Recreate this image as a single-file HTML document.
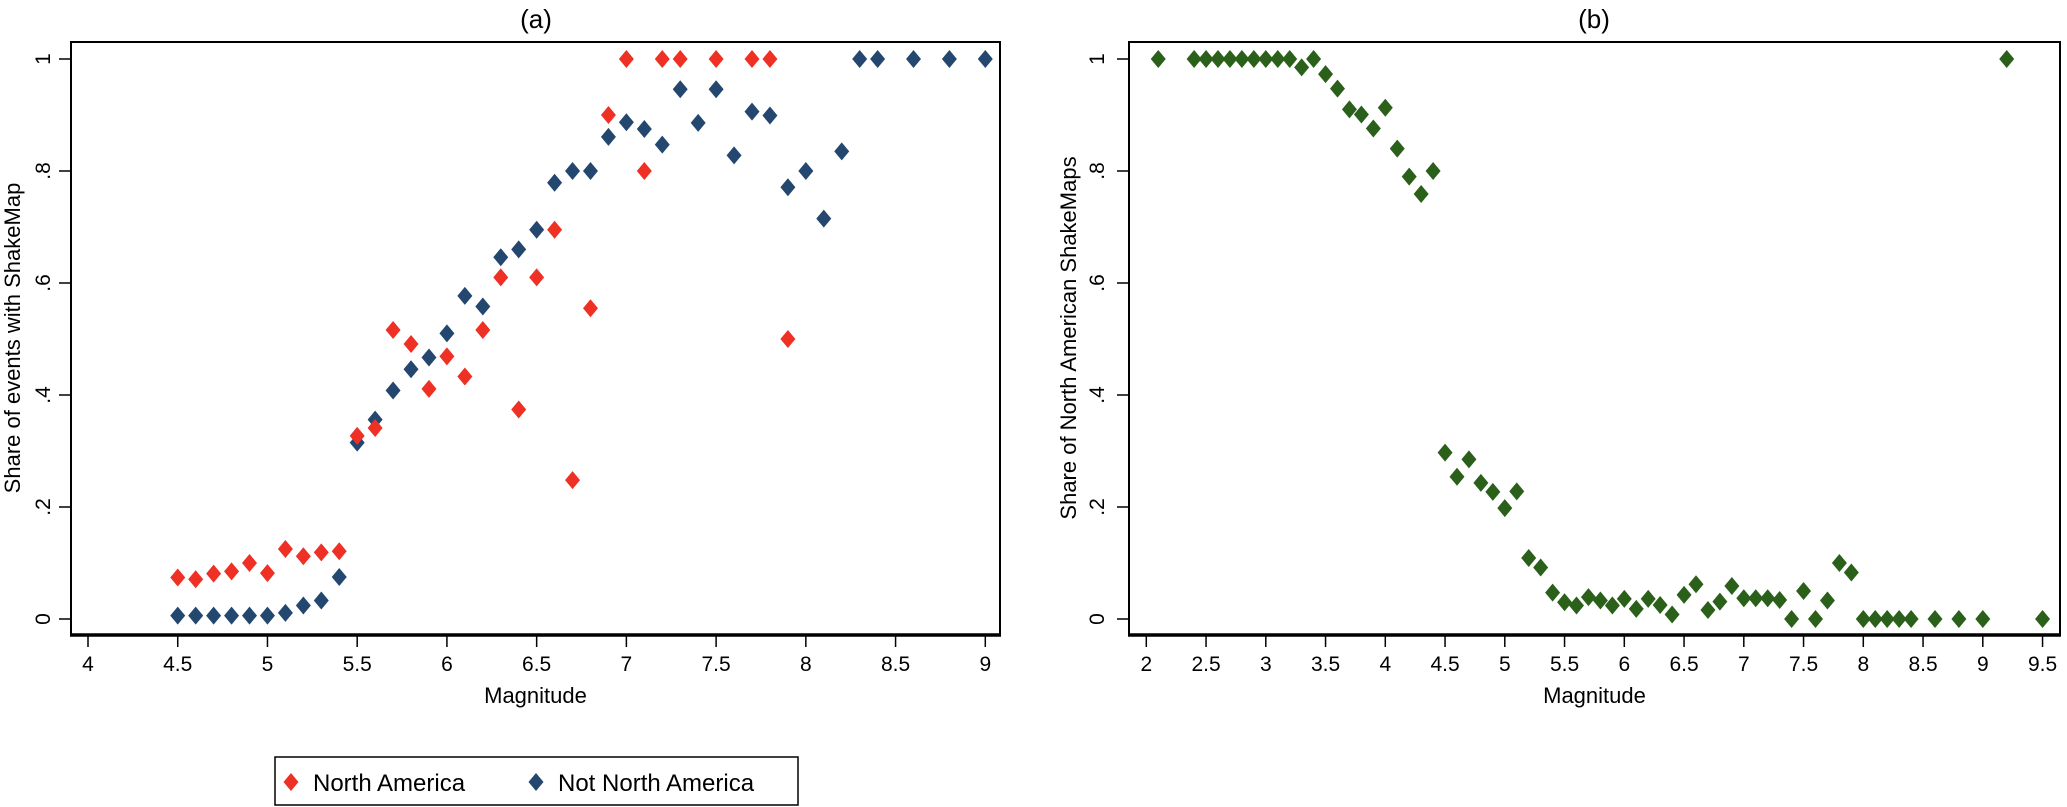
<!DOCTYPE html>
<html><head><meta charset="utf-8"><style>
html,body{margin:0;padding:0;background:#fff;}
svg{display:block;font-family:"Liberation Sans",Arial,sans-serif;}
</style></head><body>
<svg id="chart" width="2067" height="807" viewBox="0 0 2067 807"></svg>
<script>
// Panel (a) data
const magA = [4.5,4.6,4.7,4.8,4.9,5.0,5.1,5.2,5.3,5.4,5.5,5.6,5.7,5.8,5.9,6.0,6.1,6.2,6.3,6.4,6.5,6.6,6.7,6.8,6.9,7.0,7.1,7.2,7.3,7.5,7.7,7.8,7.9];
const naShare = [0.074,0.071,0.081,0.085,0.100,0.082,0.125,0.112,0.119,0.121,0.327,0.341,0.516,0.491,0.411,0.469,0.433,0.516,0.610,0.374,0.610,0.695,0.248,0.555,0.90,1,0.8,1,1,1,1,1,0.5];
const magB = [4.5,4.6,4.7,4.8,4.9,5.0,5.1,5.2,5.3,5.4,5.5,5.6,5.7,5.8,5.9,6.0,6.1,6.2,6.3,6.4,6.5,6.6,6.7,6.8,6.9,7.0,7.1,7.2,7.3,7.4,7.5,7.6,7.7,7.8,7.9,8.0,8.1,8.2,8.3,8.4,8.6,8.8,9.0];
const notNaShare = [0.006,0.006,0.006,0.006,0.006,0.006,0.011,0.024,0.033,0.075,0.315,0.356,0.408,0.446,0.467,0.51,0.577,0.558,0.646,0.66,0.695,0.779,0.80,0.80,0.861,0.887,0.875,0.847,0.946,0.886,0.946,0.828,0.906,0.899,0.771,0.80,0.715,0.835,1,1,1,1,1];
const ticksA = [4,4.5,5,5.5,6,6.5,7,7.5,8,8.5,9];
const tickLabelsA = ["4","4.5","5","5.5","6","6.5","7","7.5","8","8.5","9"];
// Panel (b) data
const magG = [2.1,2.4,2.5,2.6,2.7,2.8,2.9,3.0,3.1,3.2,3.3,3.4,3.5,3.6,3.7,3.8,3.9,4.0,4.1,4.2,4.3,4.4,4.5,4.6,4.7,4.8,4.9,5.0,5.1,5.2,5.3,5.4,5.5,5.6,5.7,5.8,5.9,6.0,6.1,6.2,6.3,6.4,6.5,6.6,6.7,6.8,6.9,7.0,7.1,7.2,7.3,7.4,7.5,7.6,7.7,7.8,7.9,8.0,8.1,8.2,8.3,8.4,8.6,8.8,9.0,9.2,9.5];
const naMapShare = [1,1,1,1,1,1,1,1,1,1,0.985,1,0.973,0.947,0.91,0.901,0.876,0.913,0.84,0.79,0.759,0.80,0.297,0.254,0.285,0.243,0.227,0.198,0.228,0.109,0.092,0.047,0.030,0.024,0.039,0.033,0.024,0.036,0.018,0.036,0.025,0.008,0.043,0.062,0.016,0.031,0.059,0.037,0.037,0.037,0.034,0,0.05,0,0.033,0.1,0.083,0,0,0,0,0,0,0,0,1,0];
const ticksB = [2,2.5,3,3.5,4,4.5,5,5.5,6,6.5,7,7.5,8,8.5,9,9.5];
const tickLabelsB = ["2","2.5","3","3.5","4","4.5","5","5.5","6","6.5","7","7.5","8","8.5","9","9.5"];
const yTicks = [0,0.2,0.4,0.6,0.8,1];
const yTickLabels = ["0",".2",".4",".6",".8","1"];

const NS="http://www.w3.org/2000/svg";
const svg=document.getElementById('chart');
function mk(tag,attrs,parent){const e=document.createElementNS(NS,tag);for(const k in attrs)e.setAttribute(k,attrs[k]);(parent||svg).appendChild(e);return e;}
const yv = v => 619 - 560*v;
const xa = m => 88 + (m-4)*179.46;
const xb = m => 1146.3 + (m-2)*119.5;

function panel(id,left,right,xfn,ticks,labels,title,ytitle,ytitleX,ylabX,titleX){
  const g=mk('g',{});
  
  
  const fr=mk('rect',{x:left,y:42,width:right-left,height:593,fill:'none',stroke:'#000','stroke-width':2},g);
  
  
  mk('line',{x1:left-1,y1:635,x2:right+1,y2:635,stroke:'#000','stroke-width':3.5},g);
  ticks.forEach((t,i)=>{
    const x=xfn(t);
    mk('line',{x1:x,y1:635,x2:x,y2:647,stroke:'#000','stroke-width':1.5},g);
    const tx=mk('text',{x:x,y:671,'font-size':21,'text-anchor':'middle'},g);
    tx.textContent=labels[i];
    
    
  });
  yTicks.forEach((t,i)=>{
    const y=yv(t);
    mk('line',{x1:left-12,y1:y,x2:left,y2:y,stroke:'#000','stroke-width':1.5},g);
    const tx=mk('text',{x:0,y:0,'font-size':21,'text-anchor':'middle',transform:`translate(${ylabX},${y}) rotate(-90)`},g);
    tx.textContent=yTickLabels[i];
    
    
  });
  const xt=mk('text',{x:(left+right)/2,y:703,'font-size':22,'text-anchor':'middle'},g);
  xt.textContent='Magnitude';
  
  
  const yt=mk('text',{x:0,y:0,'font-size':22,'text-anchor':'middle',transform:`translate(${ytitleX},338) rotate(-90)`},g);
  yt.textContent=ytitle;
  
  
  const tt=mk('text',{x:titleX,y:28,'font-size':26,'text-anchor':'middle'},g);
  tt.textContent=title;
  
  
  return g;
}
function diamond(x,y,color,parent,name){
  const p=mk('polygon',{points:`${x},${y-9} ${x+7.5},${y} ${x},${y+9} ${x-7.5},${y}`,fill:color},parent);
  
  
  return p;
}
const ga=panel('a',71,1000,xa,ticksA,tickLabelsA,'(a)','Share of events with ShakeMap',20,50,536);
const gb=panel('b',1129,2060,xb,ticksB,tickLabelsB,'(b)','Share of North American ShakeMaps',1076,1104,1594);
const RED='#ee3124',NAVY='#23476f',GREEN='#2b601a';
magB.forEach((m,i)=>diamond(xa(m),yv(notNaShare[i]),NAVY,ga,'point-not-north-america'));
magA.forEach((m,i)=>diamond(xa(m),yv(naShare[i]),RED,ga,'point-north-america'));
magG.forEach((m,i)=>diamond(xb(m),yv(naMapShare[i]),GREEN,gb,'point-na-shakemap-share'));

// legend
const lg=mk('g',{});


mk('rect',{x:275,y:757,width:523,height:48,fill:'#fff',stroke:'#000','stroke-width':1.5},lg);
diamond(291,782,RED,lg,'legend-marker-north-america');
const l1=mk('text',{x:313,y:791,'font-size':24},lg);
l1.textContent='North America';


diamond(536,782,NAVY,lg,'legend-marker-not-north-america');
const l2=mk('text',{x:558,y:791,'font-size':24},lg);
l2.textContent='Not North America';


</script>
</body></html>
